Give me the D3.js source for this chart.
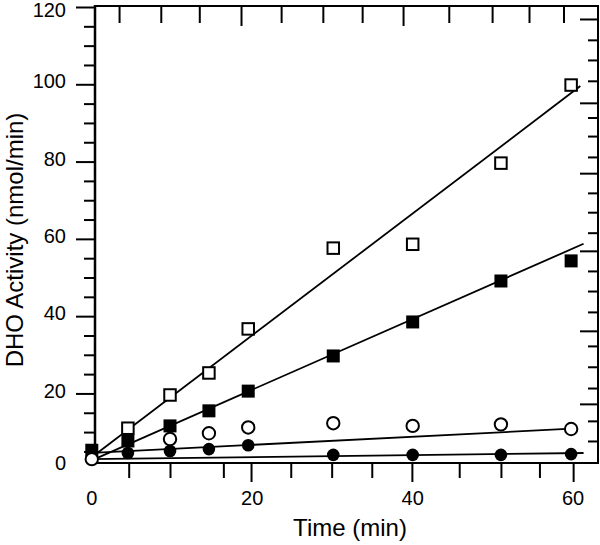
<!DOCTYPE html>
<html>
<head>
<meta charset="utf-8">
<script src="https://cdn.jsdelivr.net/npm/d3@7"></script>
<style>
html,body{margin:0;padding:0;background:#fff;}
svg{display:block;font-family:"Liberation Sans",Arial,Helvetica,sans-serif;}
</style>
</head>
<body>
<svg id="chart" width="600" height="545"></svg>
<script>
// ---- data ----
const time = [0, 4.5, 9.75, 14.6, 19.5, 30.1, 40.0, 51.0, 59.75];
const openSquare   = [null, 11.0, 19.6, 25.3, 36.7, 57.6, 58.6, 79.6, 99.8];
const filledSquare = [5.3, 7.7, 11.6, 15.5, 20.6, 29.7, 38.5, 49.1, 54.3];
const openCircle   = [3.0, null, 8.2, 9.7, 11.2, 12.3, 11.6, 12.0, 10.8];
const filledCircle = [null, 4.6, 5.1, 5.6, 6.6, 4.1, 4.1, 4.1, 4.3];

// linear fits: intercept, slope, start and end time
const fitIntercept = [3.5, 2.7, 4.6, 3.0];
const fitSlope     = [1.577, 0.914, 0.105, 0.026];
const fitStart     = [-0.5, -0.5, -0.5, -0.3];
const fitEnd       = [60.9, 61.3, 59.8, 61.3];

const xLabels = [0, 20, 40, 60];
const yLabels = [0, 20, 40, 60, 80, 100, 120];
const bottomMinor = [4.6, 9.75, 16.4, 24.8, 29.9, 34.9, 45.8, 51.0, 55.8];
const bottomMajor = [19.85, 39.9, 60.0];
const topMinor = [3.4, 8.6, 13.4, 23.6, 28.8, 33.7, 44.5, 49.9, 54.5, 58.8];
const topMajor = [18.6, 38.8];
const leftMinor = [5, 10, 15, 25, 30, 35, 45, 50, 55, 65, 70, 75, 85, 90, 95, 105, 110, 115];
const leftMajor = [20, 40, 60, 80, 100, 120];
const rightMinor = [111.5, 106.3, 100.9, 91.4, 86.6, 81.2, 71.9, 66.9, 61.6, 51.7, 46.5, 41.1, 32.3, 26.9, 21.4, 12.9, 7.7];
const rightMajor = [116.9, 95.2, 77.0, 56.9, 36.2, 17.3];

const xTitle = "Time (min)";
const yTitle = "DHO Activity (nmol/min)";

// ---- layout ----
const svg = d3.select("#chart");
const L = 95, R = 598, T = 6, B = 463;
const x = d3.scaleLinear().domain([0.4, 63.1]).range([L, R]);
const y = d3.scaleLinear().domain([2, 120]).range([B, T + 1]);

const ink = "#000";

function tickAxis(axisFn, scale, values, size, transform, width) {
  const g = svg.append("g").attr("transform", transform)
    .call(axisFn(scale).tickValues(values).tickSize(size).tickFormat(""));
  g.select(".domain").remove();
  g.selectAll(".tick line").attr("stroke", ink).attr("stroke-width", width);
  return g;
}

// bottom ticks (outward below)
tickAxis(d3.axisBottom, x, bottomMinor, 15, `translate(0,${B})`, 2);
tickAxis(d3.axisBottom, x, bottomMajor, 19, `translate(0,${B})`, 2);
// top ticks (pointing down, into plot)
tickAxis(d3.axisBottom, x, topMinor, 17, `translate(0,${T})`, 2);
tickAxis(d3.axisBottom, x, topMajor, 20, `translate(0,${T})`, 2);
// left ticks (outward)
tickAxis(d3.axisLeft, y, leftMinor, 11, `translate(${L},0)`, 2);
tickAxis(d3.axisLeft, y, leftMajor, 19, `translate(${L},0)`, 2);
// right ticks (inward)
tickAxis(d3.axisLeft, y, rightMinor, 10, `translate(${R},0)`, 2);
tickAxis(d3.axisLeft, y, rightMajor, 18, `translate(${R},0)`, 2);

// frame
svg.append("line").attr("x1", L).attr("x2", L).attr("y1", T - 1).attr("y2", B + 1)
  .attr("stroke", ink).attr("stroke-width", 2.5);
svg.append("line").attr("x1", L - 1).attr("x2", R + 1).attr("y1", B).attr("y2", B)
  .attr("stroke", ink).attr("stroke-width", 2.2);
svg.append("line").attr("x1", L).attr("x2", R + 1).attr("y1", T).attr("y2", T)
  .attr("stroke", ink).attr("stroke-width", 2);
svg.append("line").attr("x1", R).attr("x2", R).attr("y1", T).attr("y2", B)
  .attr("stroke", ink).attr("stroke-width", 2);

// tick labels
svg.append("g").selectAll("text").data(yLabels).join("text")
  .attr("x", 66)
  .attr("y", d => Math.max(10, Math.min(B, y(d) - 3)))
  .attr("dy", "0.36em")
  .attr("text-anchor", "end")
  .attr("font-size", 20)
  .attr("fill", ink)
  .text(d => d);

svg.append("g").selectAll("text").data(xLabels).join("text")
  .attr("x", d => x(d))
  .attr("y", 498)
  .attr("dy", "0.36em")
  .attr("text-anchor", "middle")
  .attr("font-size", 20)
  .attr("fill", ink)
  .text(d => d);

// titles
svg.append("text")
  .attr("x", 350).attr("y", 527).attr("dy", "0.36em")
  .attr("text-anchor", "middle").attr("font-size", 24).attr("fill", ink)
  .text(xTitle);
svg.append("text")
  .attr("transform", "translate(14,240) rotate(-90)")
  .attr("dy", "0.36em")
  .attr("text-anchor", "middle").attr("font-size", 24).attr("fill", ink)
  .text(yTitle);

// fit lines
const fitIdx = d3.range(fitSlope.length);
svg.append("g").selectAll("line").data(fitIdx).join("line")
  .attr("x1", i => x(fitStart[i]))
  .attr("y1", i => y(fitIntercept[i] + fitSlope[i] * fitStart[i]))
  .attr("x2", i => x(fitEnd[i]))
  .attr("y2", i => y(fitIntercept[i] + fitSlope[i] * fitEnd[i]))
  .attr("stroke", ink).attr("stroke-width", 1.8);

// markers
function pts(vals) {
  return time.map((t, i) => ({t, v: vals[i]})).filter(d => d.v !== null);
}
const sq = 11.5;
svg.append("g").selectAll("rect").data(pts(openSquare)).join("rect")
  .attr("x", d => x(d.t) - sq / 2).attr("y", d => y(d.v) - sq / 2)
  .attr("width", sq).attr("height", sq)
  .attr("fill", "#fff").attr("stroke", ink).attr("stroke-width", 2);
svg.append("g").selectAll("rect").data(pts(filledSquare)).join("rect")
  .attr("x", d => x(d.t) - (sq + 1.5) / 2).attr("y", d => y(d.v) - (sq + 1.5) / 2)
  .attr("width", sq + 1.5).attr("height", sq + 1.5)
  .attr("fill", ink);
svg.append("g").selectAll("circle").data(pts(filledCircle)).join("circle")
  .attr("cx", d => x(d.t)).attr("cy", d => y(d.v)).attr("r", 6.3)
  .attr("fill", ink);
svg.append("g").selectAll("circle").data(pts(openCircle)).join("circle")
  .attr("cx", d => x(d.t)).attr("cy", d => y(d.v)).attr("r", 6.2)
  .attr("fill", "#fff").attr("stroke", ink).attr("stroke-width", 2);
</script>
</body>
</html>
